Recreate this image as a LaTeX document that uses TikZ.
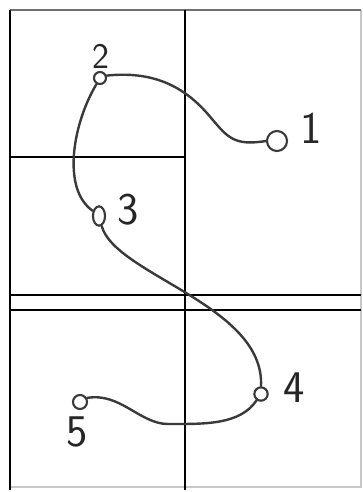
\documentclass[tikz,border=0pt]{standalone}
\usepackage{xcolor}
\usepackage{tikz}
\usetikzlibrary{arrows.meta, positioning, shapes.geometric, calc}
\definecolor{skInk}{HTML}{3A3A3A}
\definecolor{skFaint}{HTML}{C8C8C8}
\definecolor{skTop}{HTML}{707070}

\begin{document}
\begin{tikzpicture}[
  x=0.75pt, y=-0.75pt,
  grid/.style={line width=1.7pt, black},
  pt/.style={draw=skInk, circle, line width=1.6pt, inner sep=0pt, minimum size=#1},
  crv/.style={draw=skInk, line width=1.8pt, line cap=round},
  lbl/.style={font=\sffamily\fontsize{34}{34}\selectfont, text=black!85, inner sep=0pt}
]
  \useasboundingbox[fill=white] (0,0) rectangle (363,492);

  % frame and grid
  \draw[line width=1.2pt, skFaint] (361,10) -- (361,487) -- (10,487);
  \draw[line width=1.7pt, skTop] (10,10) -- (361,10);
  \draw[grid] (10,10) -- (10,490);
  \draw[grid] (185,10) -- (185,490);
  \draw[grid] (10,157) -- (185,157);
  \draw[grid] (10,295) -- (361,295);
  \draw[grid] (10,310) -- (361,310);

  % points
  \node[pt=15pt] (p1) at (277,141) {};
  \node[pt=9pt] (p2) at (100,78) {};
  \node[draw=skInk, ellipse, line width=1.6pt, inner sep=0pt,
        minimum width=9pt, minimum height=14.5pt] (p3) at (99,216) {};
  \node[pt=10pt] (p4) at (261,394) {};
  \node[pt=10.5pt] (p5) at (80,402) {};

  \node[lbl] (l1) at (311,128) {1};
  \node[lbl, font=\sffamily\fontsize{27}{27}\selectfont] (l2) at (101,56) {2};
  \node[lbl] (l3) at (128,210) {3};
  \node[lbl] (l4) at (294,388) {4};
  \node[lbl] (l5) at (77,432) {5};

  % the path
  \coordinate (b45) at (168,424);
  \draw[crv] (p1.west) .. controls (235,146) and (228,138) .. (212,119)
    .. controls (190,92) and (160,70) .. (p2.20);
  \draw[crv] (p2.240) .. controls (72,125) and (62,190) .. (p3.140);
  \draw[crv] (p3.285) .. controls (115,275) and (265,305) .. (p4.north);
  \draw[crv] (p4.235) .. controls (240,425) and (205,424) .. (b45)
    .. controls (140,424) and (120,392) .. (p5.30);
\end{tikzpicture}
\end{document}
